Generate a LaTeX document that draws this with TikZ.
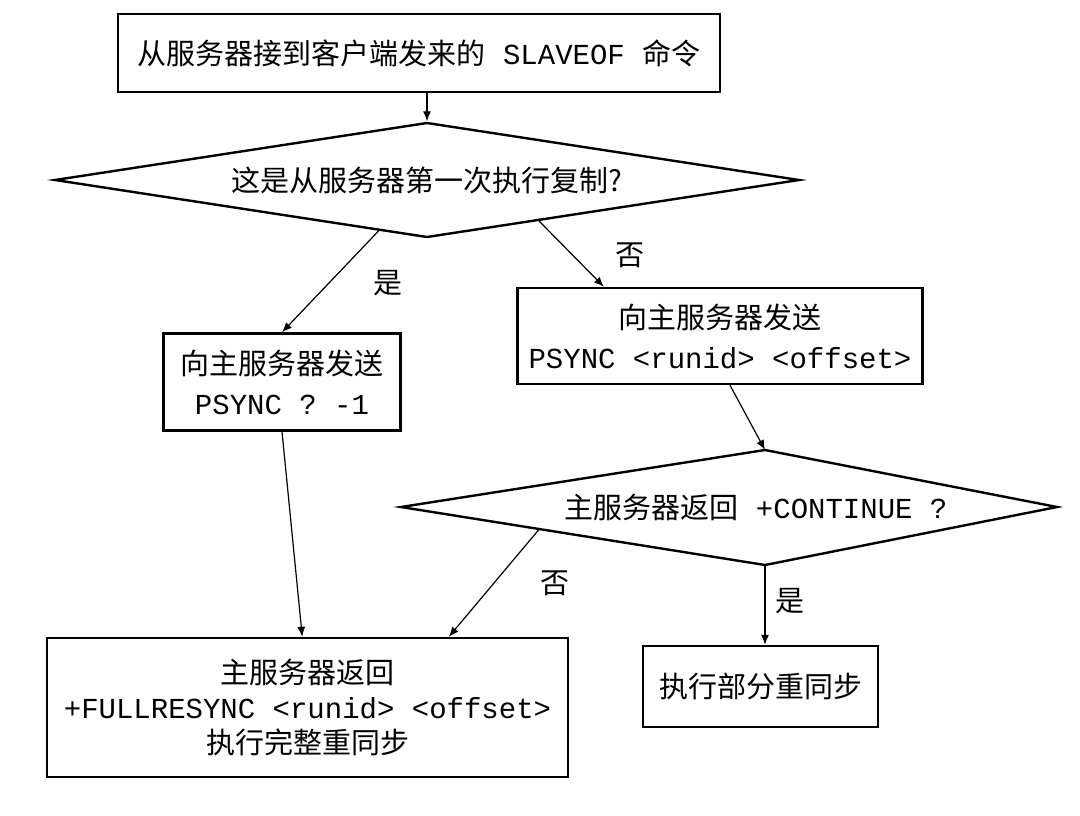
\documentclass[tikz,border=0pt]{standalone}
\usepackage{fontspec}
\setmonofont{Liberation Mono}
\newfontfamily\cjk{Noto Sans CJK SC}
\usetikzlibrary{shapes.geometric,calc,arrows.meta}
\newcommand{\code}[1]{{\ttfamily #1}}

\begin{document}
\begin{tikzpicture}[
    x=0.5pt, y=-0.5pt,
    every node/.style={font=\cjk\fontsize{14.5pt}{20pt}\selectfont, align=center, inner sep=0pt},
    box/.style={draw, rectangle, line width=1.2pt},
    decision/.style={draw, diamond, shape aspect=6.5, line width=1.2pt},
    outline/.style={line width=1.2pt, line join=miter},
    link/.style={-{Latex[length=5pt,width=4pt]}, line width=0.6pt}
]
    \useasboundingbox (0,0) rectangle (1080,815);

    % boxes and decisions
    \node[box, minimum width=301pt, minimum height=39pt] (start) at (419,53)
        {从服务器接到客户端发来的\code{ SLAVEOF }命令};
    \node[decision, minimum width=372.5pt, minimum height=57.5pt] (first) at (427,180)
        {这是从服务器第一次执行复制?};
    \node[box, minimum width=118.5pt, minimum height=48.5pt] (fullreq) at (282,382)
        {向主服务器发送\\\code{PSYNC ? -1}};
    \node[box, minimum width=202.5pt, minimum height=48pt] (partreq) at (720,336)
        {向主服务器发送\\\code{PSYNC <runid> <offset>}};

    \coordinate (contN) at (765,450);
    \coordinate (contE) at (1057,507);
    \coordinate (contS) at (765,565);
    \coordinate (contW) at (401,507);
    \draw[outline] (contN) -- (contE) -- (contS) -- (contW) -- cycle;
    \node (cont) at (756,507) {主服务器返回\code{ +CONTINUE ?}};

    \node[box, minimum width=260.5pt, minimum height=69.5pt,
          font=\cjk\fontsize{14.5pt}{17.5pt}\selectfont] (fullsync) at (307.5,707.5)
        {主服务器返回\\\code{+FULLRESYNC <runid> <offset>}\\执行完整重同步};
    \node[box, minimum width=117.5pt, minimum height=40.5pt] (partsync) at (760.5,686.5)
        {执行部分重同步};

    % connectors
    \draw[link] (start.south -| first.north) -- (first.north);
    \draw[link] ($(first.south)!0.13!(first.west)$) -- (fullreq.north);
    \draw[link] ($(first.south)!0.30!(first.east)$) -- ($(partreq.north west)!0.215!(partreq.north east)$);
    \draw[link] ($(partreq.south)+(10,0)$) -- (contN);
    \draw[link] ($(contS)!0.62!(contW)$) -- ($(fullsync.north west)!0.77!(fullsync.north east)$);
    \draw[link] (contS) -- (partsync.north -| contS);
    \draw[link] (fullreq.south) -- ($(fullsync.north west)!0.49!(fullsync.north east)$);

    % labels
    \node (yes1) at (388,283) {是};
    \node (no1) at (630,255) {否};
    \node (no2) at (555,583) {否};
    \node (yes2) at (790,601) {是};
\end{tikzpicture}
\end{document}
